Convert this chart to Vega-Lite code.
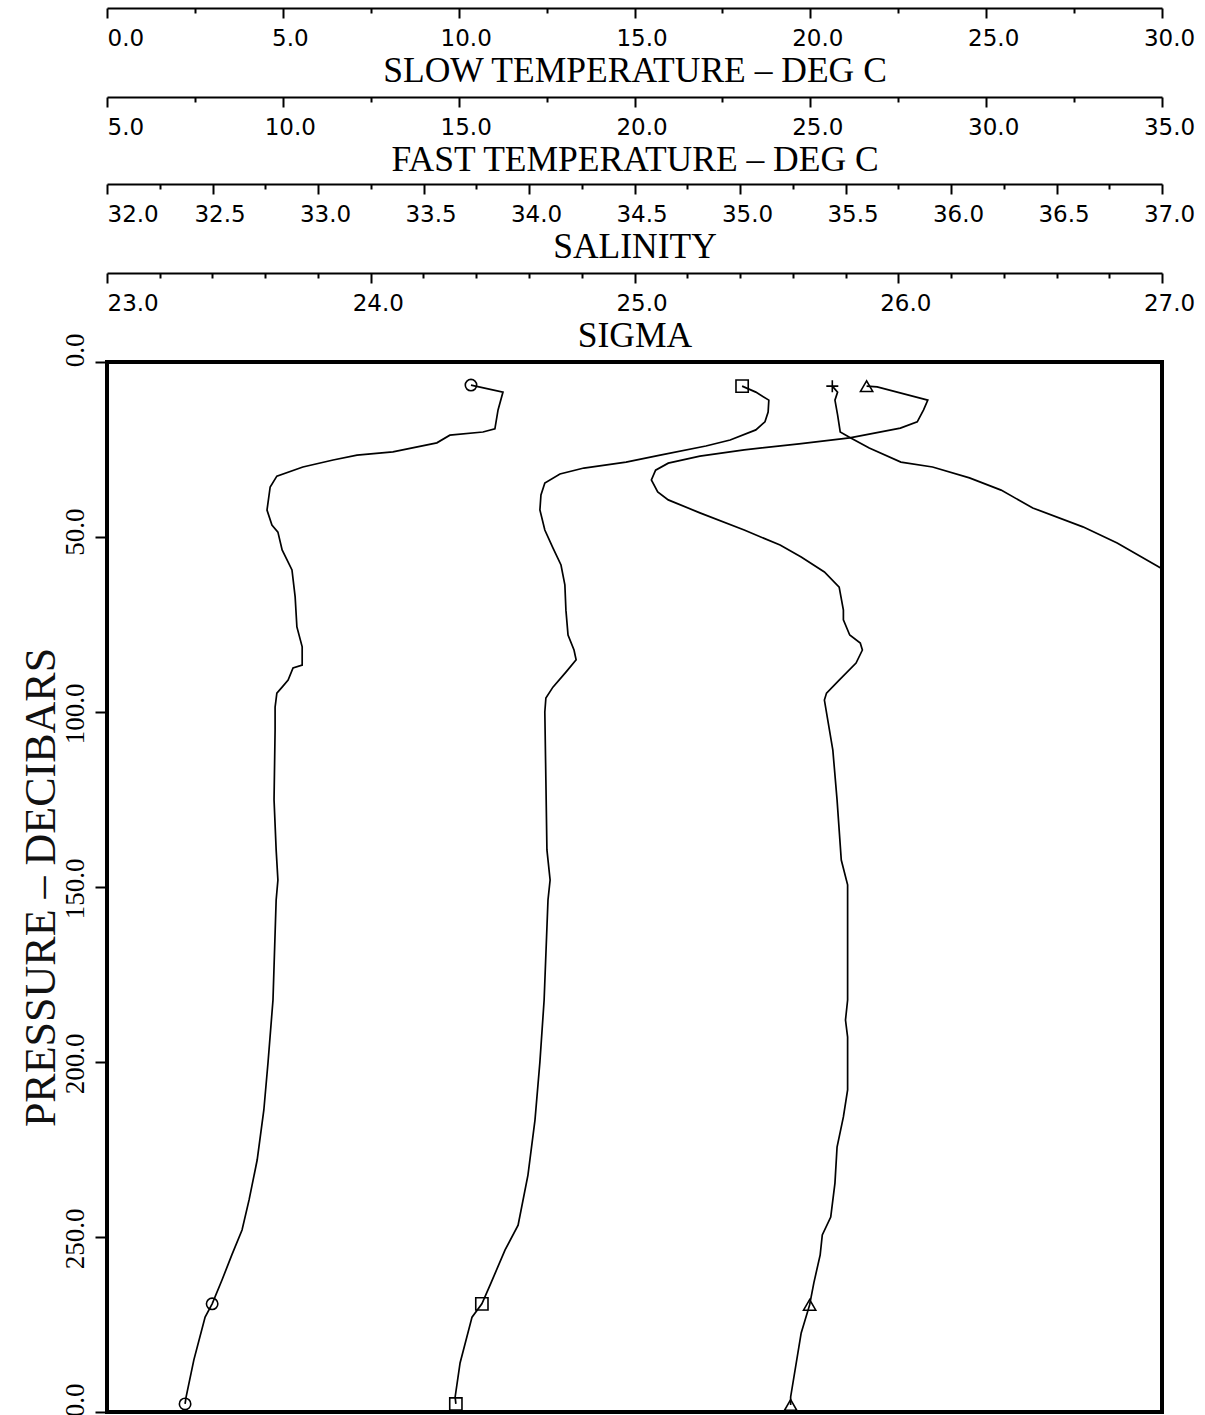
{
  "$schema": "https://vega.github.io/schema/vega-lite/v6.json",
  "width": 1055,
  "height": 1050,
  "autosize": {"type": "none"},
  "padding": {"left": 107, "top": 362, "right": 43, "bottom": 3},
  "background": "white",
  "config": {
    "view": {"stroke": "black", "strokeWidth": 4},
    "axisX": {
      "labelFont": "DejaVu Sans", "labelFontSize": 23, "labelPadding": 9,
      "labelFlush": false, "labelOverlap": false, "labelColor": "black",
      "titleFont": "Liberation Serif", "titleFontSize": 35.5, "titleFontWeight": "normal",
      "titlePadding": 3, "titleColor": "black",
      "domainColor": "black", "domainWidth": 2, "tickColor": "black", "tickWidth": 2, "grid": false
    },
    "axisY": {
      "labelFont": "Liberation Serif", "labelFontSize": 27, "labelColor": "black",
      "titleFont": "Liberation Serif", "titleFontSize": 44, "titleFontWeight": "normal", "titleColor": "#111",
      "domain": false, "tickColor": "black", "tickWidth": 2, "grid": false, "labelFlush": false, "labelOverlap": false
    }
  },
  "datasets": {
    "slow": [
      {"p": 6.6, "v": 10.35, "mk": 1},
      {"p": 8.6, "v": 11.26},
      {"p": 13.7, "v": 11.12},
      {"p": 19.1, "v": 11.03},
      {"p": 20.0, "v": 10.69},
      {"p": 20.9, "v": 9.75},
      {"p": 23.1, "v": 9.38},
      {"p": 25.7, "v": 8.13},
      {"p": 26.6, "v": 7.11},
      {"p": 28.0, "v": 6.43},
      {"p": 30.0, "v": 5.57},
      {"p": 32.6, "v": 4.83},
      {"p": 35.7, "v": 4.64},
      {"p": 42.3, "v": 4.55},
      {"p": 46.6, "v": 4.69},
      {"p": 48.6, "v": 4.86},
      {"p": 53.7, "v": 4.98},
      {"p": 59.4, "v": 5.26},
      {"p": 67.1, "v": 5.35},
      {"p": 75.7, "v": 5.40},
      {"p": 81.4, "v": 5.55},
      {"p": 86.6, "v": 5.55},
      {"p": 87.4, "v": 5.29},
      {"p": 90.9, "v": 5.15},
      {"p": 92.9, "v": 4.98},
      {"p": 94.6, "v": 4.83},
      {"p": 98.6, "v": 4.78},
      {"p": 105.1, "v": 4.78},
      {"p": 125.1, "v": 4.75},
      {"p": 139.4, "v": 4.81},
      {"p": 148.0, "v": 4.86},
      {"p": 153.7, "v": 4.81},
      {"p": 182.3, "v": 4.72},
      {"p": 200.0, "v": 4.58},
      {"p": 213.7, "v": 4.46},
      {"p": 228.0, "v": 4.27},
      {"p": 239.4, "v": 4.04},
      {"p": 248.0, "v": 3.84},
      {"p": 255.1, "v": 3.55},
      {"p": 262.3, "v": 3.27},
      {"p": 269.1, "v": 2.99, "mk": 1},
      {"p": 272.9, "v": 2.79},
      {"p": 285.1, "v": 2.47},
      {"p": 295.7, "v": 2.25},
      {"p": 297.7, "v": 2.22, "mk": 1}
    ],
    "fast": [
      {"p": 6.9, "v": 23.06, "mk": 1},
      {"p": 8.6, "v": 23.45},
      {"p": 10.9, "v": 23.82},
      {"p": 14.3, "v": 23.80},
      {"p": 17.1, "v": 23.71},
      {"p": 19.4, "v": 23.45},
      {"p": 22.3, "v": 22.72},
      {"p": 24.0, "v": 22.03},
      {"p": 26.6, "v": 20.73},
      {"p": 28.6, "v": 19.76},
      {"p": 30.3, "v": 18.56},
      {"p": 32.0, "v": 17.88},
      {"p": 34.6, "v": 17.45},
      {"p": 38.0, "v": 17.34},
      {"p": 42.3, "v": 17.31},
      {"p": 48.0, "v": 17.45},
      {"p": 53.1, "v": 17.68},
      {"p": 58.0, "v": 17.91},
      {"p": 63.7, "v": 18.02},
      {"p": 70.9, "v": 18.05},
      {"p": 78.0, "v": 18.11},
      {"p": 82.3, "v": 18.28},
      {"p": 85.1, "v": 18.34},
      {"p": 88.6, "v": 18.05},
      {"p": 92.9, "v": 17.68},
      {"p": 96.0, "v": 17.48},
      {"p": 100.0, "v": 17.45},
      {"p": 119.4, "v": 17.48},
      {"p": 139.4, "v": 17.51},
      {"p": 148.0, "v": 17.60},
      {"p": 153.7, "v": 17.54},
      {"p": 182.3, "v": 17.43},
      {"p": 200.0, "v": 17.31},
      {"p": 216.6, "v": 17.17},
      {"p": 232.3, "v": 16.97},
      {"p": 246.6, "v": 16.69},
      {"p": 253.7, "v": 16.32},
      {"p": 263.1, "v": 15.92},
      {"p": 269.1, "v": 15.66, "mk": 1},
      {"p": 272.9, "v": 15.38},
      {"p": 286.0, "v": 15.04},
      {"p": 295.7, "v": 14.90},
      {"p": 297.7, "v": 14.92, "mk": 1}
    ],
    "salinity": [
      {"p": 6.9, "v": 35.60, "mk": 1},
      {"p": 7.1, "v": 35.65},
      {"p": 10.9, "v": 35.89},
      {"p": 13.7, "v": 35.87},
      {"p": 17.1, "v": 35.84},
      {"p": 18.9, "v": 35.76},
      {"p": 21.7, "v": 35.52},
      {"p": 23.4, "v": 35.28},
      {"p": 25.1, "v": 35.02},
      {"p": 26.9, "v": 34.81},
      {"p": 28.9, "v": 34.66},
      {"p": 30.9, "v": 34.60},
      {"p": 33.7, "v": 34.58},
      {"p": 37.1, "v": 34.61},
      {"p": 39.4, "v": 34.66},
      {"p": 43.1, "v": 34.81},
      {"p": 48.0, "v": 35.02},
      {"p": 52.3, "v": 35.19},
      {"p": 55.7, "v": 35.29},
      {"p": 60.0, "v": 35.40},
      {"p": 64.3, "v": 35.47},
      {"p": 70.9, "v": 35.49},
      {"p": 73.7, "v": 35.49},
      {"p": 78.0, "v": 35.52},
      {"p": 80.3, "v": 35.57},
      {"p": 82.3, "v": 35.58},
      {"p": 86.0, "v": 35.55},
      {"p": 90.9, "v": 35.47},
      {"p": 94.6, "v": 35.41},
      {"p": 96.6, "v": 35.40},
      {"p": 110.9, "v": 35.44},
      {"p": 125.1, "v": 35.46},
      {"p": 142.3, "v": 35.48},
      {"p": 149.4, "v": 35.51},
      {"p": 168.0, "v": 35.51},
      {"p": 182.3, "v": 35.51},
      {"p": 188.0, "v": 35.50},
      {"p": 192.9, "v": 35.51},
      {"p": 208.0, "v": 35.51},
      {"p": 215.7, "v": 35.49},
      {"p": 224.3, "v": 35.46},
      {"p": 234.6, "v": 35.45},
      {"p": 244.3, "v": 35.43},
      {"p": 249.4, "v": 35.39},
      {"p": 255.1, "v": 35.38},
      {"p": 263.1, "v": 35.35},
      {"p": 269.4, "v": 35.33, "mk": 1},
      {"p": 277.4, "v": 35.29},
      {"p": 295.7, "v": 35.24},
      {"p": 298.0, "v": 35.24, "mk": 1}
    ],
    "sigma": [
      {"p": 6.9, "v": 25.75, "mk": 1},
      {"p": 8.6, "v": 25.77},
      {"p": 10.9, "v": 25.76},
      {"p": 15.1, "v": 25.77},
      {"p": 20.0, "v": 25.78},
      {"p": 21.7, "v": 25.82},
      {"p": 24.6, "v": 25.89},
      {"p": 28.6, "v": 26.01},
      {"p": 30.0, "v": 26.13},
      {"p": 33.1, "v": 26.27},
      {"p": 36.6, "v": 26.39},
      {"p": 41.7, "v": 26.51},
      {"p": 47.1, "v": 26.70},
      {"p": 51.7, "v": 26.83},
      {"p": 59.1, "v": 27.0}
    ]
  },
  "encoding": {
    "y": {
      "field": "p", "type": "quantitative",
      "scale": {"domain": [0, 300], "reverse": true, "nice": false, "zero": false},
      "axis": {
        "orient": "left", "values": [0, 50, 100, 150, 200, 250, 300], "format": ".1f",
        "title": "PRESSURE – DECIBARS", "titlePadding": -2,
        "labelAngle": 270, "labelAlign": "right", "labelBaseline": "bottom",
        "labelOffset": -29, "labelPadding": 6, "tickSize": 12
      }
    }
  },
  "layer": [
    {
      "data": {"name": "slow"},
      "encoding": {
        "x": {
          "field": "v", "type": "quantitative",
          "scale": {"domain": [0, 30], "nice": false, "zero": false},
          "axis": {
            "orient": "bottom", "offset": -1404, "title": "SLOW TEMPERATURE – DEG C",
            "values": [0, 2.5, 5, 7.5, 10, 12.5, 15, 17.5, 20, 22.5, 25, 27.5, 30],
            "labelExpr": "datum.value % 5 == 0 ? format(datum.value, '.1f') : ''",
            "tickSize": {"condition": {"test": "datum.value % 5 == 0", "value": 10}, "value": 5},
            "labelAlign": {"condition": {"test": "datum.value == 0", "value": "left"}, "value": "center"},
            "labelOffset": {"condition": {"test": "datum.value == 0", "value": 0}, "value": 7}
          }
        }
      },
      "layer": [
        {"mark": {"type": "line", "color": "black", "strokeWidth": 1.7}, "encoding": {"order": {"value": null}}},
        {"transform": [{"filter": "datum.mk == 1"}], "mark": {"type": "point", "shape": "circle", "filled": false, "color": "black", "strokeWidth": 1.6, "size": 130, "opacity": 1}}
      ]
    },
    {
      "data": {"name": "fast"},
      "encoding": {
        "x": {
          "field": "v", "type": "quantitative",
          "scale": {"domain": [5, 35], "nice": false, "zero": false},
          "axis": {
            "orient": "bottom", "offset": -1315, "title": "FAST TEMPERATURE – DEG C",
            "values": [5, 7.5, 10, 12.5, 15, 17.5, 20, 22.5, 25, 27.5, 30, 32.5, 35],
            "labelExpr": "datum.value % 5 == 0 ? format(datum.value, '.1f') : ''",
            "tickSize": {"condition": {"test": "datum.value % 5 == 0", "value": 10}, "value": 5},
            "labelAlign": {"condition": {"test": "datum.value == 5", "value": "left"}, "value": "center"},
            "labelOffset": {"condition": {"test": "datum.value == 5", "value": 0}, "value": 7}
          }
        }
      },
      "layer": [
        {"mark": {"type": "line", "color": "black", "strokeWidth": 1.7}, "encoding": {"order": {"value": null}}},
        {"transform": [{"filter": "datum.mk == 1"}], "mark": {"type": "point", "shape": "square", "filled": false, "color": "black", "strokeWidth": 1.6, "size": 150, "opacity": 1}}
      ]
    },
    {
      "data": {"name": "salinity"},
      "encoding": {
        "x": {
          "field": "v", "type": "quantitative",
          "scale": {"domain": [32, 37], "nice": false, "zero": false},
          "axis": {
            "orient": "bottom", "offset": -1228, "title": "SALINITY",
            "values": [32, 32.25, 32.5, 32.75, 33, 33.25, 33.5, 33.75, 34, 34.25, 34.5, 34.75, 35, 35.25, 35.5, 35.75, 36, 36.25, 36.5, 36.75, 37],
            "labelExpr": "abs(datum.value * 2 - round(datum.value * 2)) < 0.001 ? format(datum.value, '.1f') : ''",
            "tickSize": {"condition": {"test": "abs(datum.value * 2 - round(datum.value * 2)) < 0.001", "value": 10}, "value": 5},
            "labelAlign": {"condition": {"test": "datum.value == 32", "value": "left"}, "value": "center"},
            "labelOffset": {"condition": {"test": "datum.value == 32", "value": 0}, "value": 7}
          }
        }
      },
      "layer": [
        {"mark": {"type": "line", "color": "black", "strokeWidth": 1.7}, "encoding": {"order": {"value": null}}},
        {"transform": [{"filter": "datum.mk == 1"}], "mark": {"type": "point", "shape": "triangle-up", "filled": false, "color": "black", "strokeWidth": 1.6, "size": 150, "opacity": 1}}
      ]
    },
    {
      "data": {"name": "sigma"},
      "encoding": {
        "x": {
          "field": "v", "type": "quantitative",
          "scale": {"domain": [23, 27], "nice": false, "zero": false},
          "axis": {
            "orient": "bottom", "offset": -1139, "title": "SIGMA",
            "values": [23, 23.2, 23.4, 23.6, 23.8, 24, 24.2, 24.4, 24.6, 24.8, 25, 25.2, 25.4, 25.6, 25.8, 26, 26.2, 26.4, 26.6, 26.8, 27],
            "labelExpr": "abs(datum.value - round(datum.value)) < 0.001 ? format(datum.value, '.1f') : ''",
            "tickSize": {"condition": {"test": "abs(datum.value - round(datum.value)) < 0.001", "value": 10}, "value": 5},
            "labelAlign": {"condition": {"test": "datum.value == 23", "value": "left"}, "value": "center"},
            "labelOffset": {"condition": {"test": "datum.value == 23", "value": 0}, "value": 7}
          }
        }
      },
      "layer": [
        {"mark": {"type": "line", "color": "black", "strokeWidth": 1.7}, "encoding": {"order": {"value": null}}},
        {"transform": [{"filter": "datum.mk == 1"}], "mark": {"type": "point", "shape": "M-1,0H1M0,-1V1", "filled": false, "color": "black", "strokeWidth": 1.6, "size": 144, "opacity": 1}}
      ]
    }
  ],
  "resolve": {"scale": {"x": "independent"}, "axis": {"x": "independent"}}
}
